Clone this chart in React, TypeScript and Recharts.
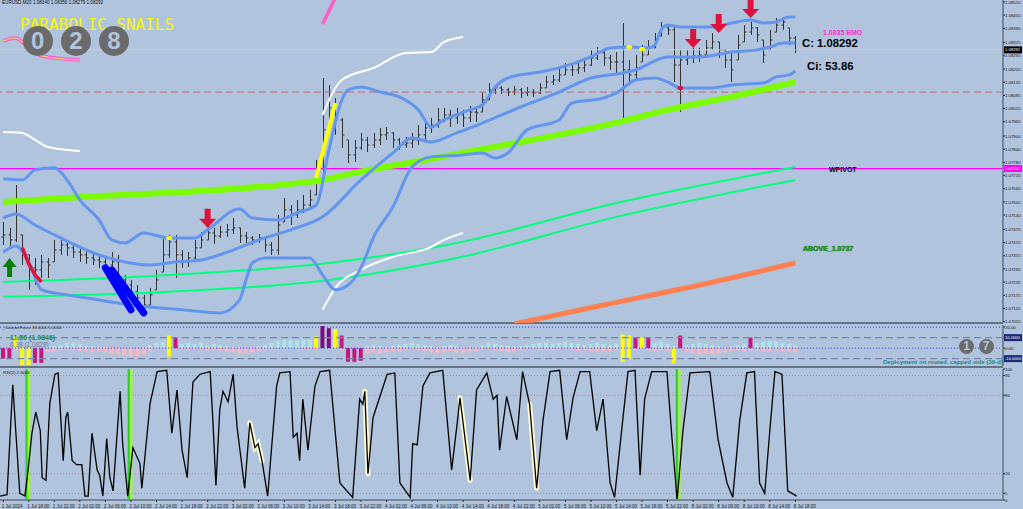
import React from "react";
import { ComposedChart, Line, Bar, XAxis, YAxis, ReferenceLine } from "recharts";

const BG = "#b0c4de";
const SLOTS = 157; // 125 bars + right shift
const SANS = "'Liberation Sans', Arial, sans-serif";

// time axis labels, one every 4 bars
const timeLabels = [
  "1 Jul 2024", "1 Jul 18:00", "1 Jul 22:00", "2 Jul 02:00", "2 Jul 06:00", "2 Jul 10:00",
  "2 Jul 14:00", "2 Jul 18:00", "2 Jul 22:00", "3 Jul 02:00", "3 Jul 06:00", "3 Jul 10:00",
  "3 Jul 14:00", "3 Jul 18:00", "3 Jul 22:00", "4 Jul 02:00", "4 Jul 06:00", "4 Jul 10:00",
  "4 Jul 14:00", "4 Jul 18:00", "4 Jul 22:00", "5 Jul 02:00", "5 Jul 06:00", "5 Jul 10:00",
  "5 Jul 14:00", "5 Jul 18:00", "5 Jul 22:00", "8 Jul 02:00", "8 Jul 06:00", "8 Jul 10:00",
  "8 Jul 14:00", "8 Jul 18:00",
];

const priceTicks = [
  1.0851, 1.0845, 1.0839, 1.08325, 1.08265, 1.08205, 1.08145, 1.08085, 1.08025, 1.07965,
  1.079, 1.0784, 1.0778, 1.0772, 1.0766, 1.076, 1.0754, 1.07475, 1.07415, 1.07355,
  1.07295, 1.07235, 1.07175, 1.07115, 1.07055,
];

// EURUSD bars
const firstOpen = 1.0744;
const barClose = [
  1.0745, 1.07427, 1.07541, 1.07381, 1.073, 1.07291, 1.07327, 1.07313, 1.07381, 1.07404,
  1.07391, 1.07372, 1.07359, 1.07345, 1.07336, 1.07327, 1.07313, 1.07327, 1.07245, 1.07222,
  1.07191, 1.07163, 1.07131, 1.07177, 1.07245, 1.07359, 1.07418, 1.07359, 1.07327, 1.07345,
  1.07391, 1.07427, 1.07459, 1.07445, 1.07463, 1.07473, 1.07482, 1.07445, 1.07436, 1.07427,
  1.07436, 1.07404, 1.07381, 1.07495, 1.07564, 1.07541, 1.07564, 1.07586, 1.07609, 1.07709,
  1.07928, 1.08028, 1.07973, 1.07905, 1.07814, 1.07846, 1.07882, 1.07859, 1.07882, 1.07905,
  1.07914, 1.07882, 1.07859, 1.07868, 1.07882, 1.07905, 1.07937, 1.0795, 1.07973, 1.07996,
  1.07982, 1.07996, 1.07982, 1.08009, 1.08005, 1.08064, 1.0811, 1.08119, 1.0811, 1.081,
  1.0811, 1.08096, 1.081, 1.08096, 1.08119, 1.08146, 1.08155, 1.08178, 1.08201, 1.08201,
  1.0821, 1.08223, 1.08255, 1.08278, 1.08255, 1.08237, 1.08237, 1.08201, 1.08178, 1.0821,
  1.08269, 1.08301, 1.08337, 1.08392, 1.08383, 1.08223, 1.08246, 1.08255, 1.08264, 1.08269,
  1.08301, 1.08328, 1.08292, 1.08246, 1.08201, 1.08314, 1.08373, 1.08392, 1.0836, 1.08269,
  1.08337, 1.08405, 1.08419, 1.08346, 1.08292,
];
const barHigh = [
  1.07509, 1.07482, 1.07677, 1.0745, 1.07359, 1.07345, 1.07359, 1.07345, 1.07427, 1.07441,
  1.07413, 1.07404, 1.07391, 1.07381, 1.07368, 1.07359, 1.07345, 1.07372, 1.07359, 1.07268,
  1.07245, 1.07222, 1.07177, 1.07209, 1.07291, 1.07441, 1.0745, 1.0745, 1.07381, 1.07372,
  1.07427, 1.07463, 1.07491, 1.07482, 1.07491, 1.075, 1.07527, 1.07482, 1.07463, 1.07445,
  1.07454, 1.07436, 1.07418, 1.07541, 1.07618, 1.07586, 1.07609, 1.07632, 1.07655, 1.07791,
  1.08164, 1.08132, 1.08073, 1.07982, 1.07882, 1.07882, 1.07914, 1.07896, 1.07914, 1.07937,
  1.07941, 1.07918, 1.07891, 1.07896, 1.07914, 1.0795, 1.07973, 1.07982, 1.08028, 1.08028,
  1.08019, 1.08028, 1.08019, 1.08037, 1.08032, 1.081, 1.08141, 1.08132, 1.08128, 1.08119,
  1.08128, 1.08119, 1.08123, 1.08114, 1.08141, 1.08173, 1.08178, 1.0821, 1.08232, 1.08228,
  1.08237, 1.08255, 1.08292, 1.08305, 1.08292, 1.08269, 1.08282, 1.08414, 1.08246, 1.08269,
  1.08314, 1.08337, 1.08369, 1.08419, 1.0841, 1.08396, 1.08292, 1.08292, 1.08301, 1.08301,
  1.08337, 1.08369, 1.08328, 1.08292, 1.08282, 1.0836, 1.08405, 1.08419, 1.08396, 1.08337,
  1.08383, 1.08437, 1.08442, 1.08392, 1.08355,
];
const barLow = [
  1.07404, 1.07391, 1.07418, 1.07313, 1.072, 1.07222, 1.07254, 1.07254, 1.07327, 1.07359,
  1.07354, 1.07345, 1.07327, 1.07318, 1.07313, 1.073, 1.07281, 1.07281, 1.072, 1.07177,
  1.07154, 1.07131, 1.07099, 1.07131, 1.072, 1.07281, 1.07345, 1.07254, 1.073, 1.07304,
  1.07336, 1.07391, 1.07427, 1.07409, 1.07436, 1.07441, 1.07454, 1.07413, 1.07413, 1.07404,
  1.07413, 1.07372, 1.07359, 1.07359, 1.07509, 1.07495, 1.07527, 1.0755, 1.07564, 1.07632,
  1.077, 1.07928, 1.07905, 1.07846, 1.07777, 1.07782, 1.07837, 1.07827, 1.07846, 1.07859,
  1.07882, 1.07846, 1.07837, 1.07846, 1.07846, 1.07859, 1.07882, 1.07914, 1.07937, 1.07964,
  1.07941, 1.07955, 1.07941, 1.07964, 1.07964, 1.08009, 1.08064, 1.08091, 1.08091, 1.08082,
  1.08087, 1.08073, 1.08082, 1.08078, 1.08091, 1.08119, 1.08132, 1.08146, 1.08178, 1.08173,
  1.08182, 1.08191, 1.08219, 1.08246, 1.08219, 1.08201, 1.08187, 1.07973, 1.08132, 1.08155,
  1.08237, 1.08269, 1.08301, 1.08355, 1.0836, 1.08146, 1.08009, 1.08223, 1.08232, 1.08237,
  1.0826, 1.08292, 1.08255, 1.0821, 1.08146, 1.08246, 1.08328, 1.0836, 1.08328, 1.08232,
  1.08292, 1.08373, 1.08383, 1.08314, 1.08278,
];

// indicator lines, [bar, price]
const bbUpper = [
  [0, 1.07705], [3, 1.077], [5, 1.07746], [8, 1.07755], [10, 1.077], [12, 1.07609], [15, 1.07518],
  [17, 1.07427], [19, 1.07413], [22, 1.07459], [26, 1.07436], [30, 1.07436], [32, 1.07473],
  [37, 1.07568], [39, 1.07527], [43, 1.07518], [46, 1.0755], [49, 1.07586], [51, 1.07837],
  [53, 1.08064], [54, 1.0811], [56, 1.08123], [59, 1.081], [62, 1.08078], [65, 1.08019],
  [67, 1.07941], [69, 1.07973], [73, 1.08019], [75, 1.08041], [77, 1.08123], [79, 1.08164],
  [84, 1.08191], [87, 1.0821], [92, 1.0826], [95, 1.08301], [98, 1.08305], [101, 1.08301],
  [102, 1.08314], [103, 1.08383], [104, 1.08405], [106, 1.08396], [111, 1.08396], [114, 1.08414],
  [117, 1.08428], [119, 1.08414], [121, 1.08419], [123, 1.08442], [124, 1.08442],
];
const bbMiddle = [
  [0, 1.07527], [2, 1.07545], [5, 1.07495], [9, 1.07436], [15, 1.07359], [19, 1.07327],
  [23, 1.07313], [27, 1.07327], [31, 1.07336], [36, 1.07381], [40, 1.07427], [45, 1.07473],
  [50, 1.07532], [56, 1.077], [61, 1.07823], [64, 1.07891], [67, 1.07873], [71, 1.07914],
  [75, 1.07959], [81, 1.08032], [87, 1.081], [92, 1.08164], [97, 1.08187], [99, 1.08201],
  [104, 1.0826], [109, 1.0826], [114, 1.08282], [118, 1.08292], [120, 1.08305], [122, 1.08323],
  [124, 1.08323],
];
const bbLower = [
  [0, 1.07372], [2, 1.074], [4, 1.07327], [6, 1.072], [10, 1.07177], [15, 1.07154], [20, 1.07131],
  [28, 1.07109], [34, 1.07095], [37, 1.07154], [38, 1.07245], [39, 1.07322], [41, 1.07345],
  [48, 1.07345], [50, 1.07268], [52, 1.072], [54, 1.07222], [56, 1.073], [58, 1.07441],
  [61, 1.07577], [64, 1.07759], [67, 1.07805], [72, 1.07814], [75, 1.07823], [77, 1.078],
  [79, 1.07823], [82, 1.07928], [87, 1.07973], [89, 1.0805], [94, 1.08073], [96, 1.08096],
  [99, 1.08155], [102, 1.08164], [104, 1.08146], [106, 1.08119], [111, 1.08119], [114, 1.08132],
  [119, 1.08141], [121, 1.08169], [123, 1.08178], [124, 1.08196],
];
const maSlow = [
  [0, 1.076], [15, 1.07627], [31, 1.0765], [45, 1.07682], [50, 1.077], [55, 1.07732],
  [66, 1.07791], [76, 1.07846], [87, 1.07905], [97, 1.07968], [104, 1.08019], [114, 1.08078],
  [124, 1.08146],
];
const maFast1 = [[0, 1.07236], [26, 1.07268], [51, 1.07322], [71, 1.07413], [96, 1.07595], [124, 1.07759]];
const maFast2 = [[0, 1.07168], [26, 1.07191], [51, 1.07245], [71, 1.07345], [96, 1.07532], [124, 1.077]];
const maLong = [[80, 1.07045], [94, 1.07131], [109, 1.07222], [124, 1.07322]];
const envTopLeft = [[0, 1.07918], [3, 1.07914], [5, 1.07882], [7, 1.0785], [12, 1.07832]];
const envUpper = [[50, 1.07996], [53, 1.08155], [58, 1.0821], [63, 1.08278], [67, 1.08282], [69, 1.08328], [72, 1.08351]];
const envLower = [[50, 1.07109], [52, 1.07209], [56, 1.07291], [61, 1.0735], [67, 1.07395], [69, 1.07427], [72, 1.07459]];
const trendUp = [[49, 1.07709], [52, 1.0805]];
const trendDown = [[3, 1.07391], [4, 1.07318], [5, 1.07268], [6, 1.07236]];
const blueLeg1 = [[16, 1.073], [20, 1.07109]];
const blueLeg2 = [[17, 1.07291], [22, 1.07095]];
const pinkTrail = [[0, 1.08332], [2, 1.08346], [3, 1.08328], [6, 1.08264], [12, 1.08246]];
const pinkTrail2 = [[50, 1.0841], [52, 1.0853]];
const sellArrows = [[32, 1.07482], [108, 1.08301], [112, 1.08369], [117, 1.08437]];
const buyArrows = [[1, 1.07345]];
const touchUp = [[26, 1.07436], [98, 1.08305], [100, 1.08296]];
const touchDn = [[106, 1.08119]];

const lastClose = 1.08292;
const weeklyPivot = 1.07752;
const dailyLevel = 1.081;

// CounterForce histogram
const cfUp = [
  0, 0, 1, 0, 0, 0, 0, 2, 2, 3, 5, 5, 4, 2, 2, 1, 1, 0, 0, 0,
  0, 0, 1, 3, 5, 6, 0, 0, 4, 5, 4, 5, 3, 4, 3, 2, 1, 1, 0, 1,
  2, 3, 5, 7, 8, 8, 7, 8, 8, 0, 0, 0, 0, 0, 0, 0, 0, 2, 3, 2,
  1, 2, 3, 4, 5, 4, 3, 2, 1, 2, 3, 2, 1, 0, 1, 3, 5, 4, 3, 2,
  1, 2, 3, 4, 5, 5, 4, 5, 6, 5, 4, 3, 4, 5, 4, 3, 4, 0, 0, 0,
  0, 0, 5, 6, 4, 2, 0, 3, 4, 5, 4, 3, 2, 1, 2, 3, 4, 0, 5, 6,
  7, 6, 5, 4, 3,
];
const cfDn = [
  0, 0, -2, 0, 0, 0, 0, -4, -3, -2, -1, -2, -3, -3, -4, -3, -4, -5, -6, -7,
  -8, -8, -6, -3, -1, -1, 0, -1, -1, -2, -1, -1, -2, -2, -3, -3, -4, -5, -5, -4,
  -3, -2, -1, 0, 0, 0, 0, -1, -1, -1, 0, 0, 0, -2, 0, 0, 0, -5, -4, -5,
  -4, -3, -3, -2, -1, -2, -3, -4, -5, -4, -3, -4, -5, -4, -3, -2, -1, -2, -3, -4,
  -3, -2, -1, -1, -2, -1, -2, -1, -1, -2, -3, -2, -3, -3, -4, -3, -2, 0, 0, -2,
  -1, -2, -3, -2, -3, 0, -1, -4, -5, -6, -5, -6, -5, -4, -3, -2, -3, -2, -2, -3,
  -3, -2, -3, -3, -4,
];
const cfYellowUp = [[2, 10], [26, 12], [49, 11], [52, 18], [97, 13], [98, 12], [100, 10]];
const cfYellowDn = [[3, -16], [4, -16], [26, -8], [97, -13], [98, -10], [105, -14]];
const cfMagentaUp = [[27, 10], [53, 12], [99, 10], [101, 10], [106, 12], [117, 10]];
const cfMagentaDn = [[0, -10], [1, -10], [5, -14], [6, -14], [54, -13], [55, -13], [56, -12]];
const cfPurpleUp = [[50, 21], [51, 19]];

// RSI(2), [bar, value]
const rsiLine = [
  [-0.5, 3], [0.6, 4], [1.5, 88], [2.6, 5], [3.4, 3], [3.9, 23], [4.5, 51], [5.1, 67], [5.8, 53],
  [6.1, 17], [6.7, 15], [7.3, 74], [8.1, 96], [8.6, 97], [9.4, 30], [9.8, 63], [10.1, 67],
  [10.8, 30], [11.5, 27], [12.3, 27], [12.8, 3], [13.3, 3], [13.9, 51], [14.7, 23], [15.1, 19],
  [15.6, 3], [16.2, 47], [16.7, 17], [17.2, 7], [18.3, 83], [18.7, 43], [19.5, 3], [20.3, 40],
  [21.4, 28], [21.7, 9], [23, 74], [24.1, 98], [25.6, 99], [26.4, 51], [27.2, 84], [28, 38],
  [28.8, 17], [29.7, 90], [30.8, 96], [32.4, 98], [32.8, 63], [33.3, 11], [33.9, 69], [34.4, 83],
  [35.2, 75], [36, 96], [36.6, 56], [37.8, 9], [38.6, 59], [39.4, 40], [39.9, 43], [40.5, 30],
  [41.4, 3], [42.8, 87], [43.3, 97], [44.9, 98], [45.4, 48], [46, 51], [46.4, 30], [46.9, 77],
  [47.7, 38], [48.8, 87], [49.6, 98], [51.1, 99], [52.7, 13], [54.7, 2], [55.8, 77], [56.3, 73],
  [56.6, 83], [57.1, 20], [57.9, 63], [60.1, 96], [61.3, 97], [62.1, 13], [63.7, 2], [64.1, 43],
  [64.8, 42], [65.7, 87], [66.8, 97], [68.8, 99], [70.2, 23], [71, 56], [71.5, 78], [73.1, 15],
  [74.1, 84], [75.7, 97], [76.7, 77], [77.3, 80], [77.7, 38], [78.8, 79], [80.4, 46], [81.3, 98],
  [82.4, 73], [83.5, 9], [84.5, 61], [85.6, 98], [87.1, 99], [88.2, 46], [89.2, 78], [90.3, 98],
  [91.8, 98], [92.9, 53], [93.9, 77], [95, 13], [95.7, 2], [96.8, 53], [97.8, 98], [98.9, 99],
  [99.7, 19], [100.4, 77], [101.5, 98], [103.9, 98], [104.7, 46], [105.5, 0], [106.4, 53],
  [107.5, 97], [110.6, 98], [111.9, 46], [113.3, 13], [114.2, 2], [115.3, 61], [116.4, 97],
  [117.6, 98], [118.4, 13], [119.2, 5], [120, 53], [120.8, 98], [121.9, 96], [122.8, 7], [124.2, 3],
];
const rsiHighlights = [
  [[38.6, 59], [39.4, 40], [39.9, 43], [40.5, 30]],
  [[56.6, 83], [57.1, 20]],
  [[71.5, 78], [73.1, 15]],
  [[82.4, 73], [83.5, 9]],
];
const rsiSignals = [4, 20, 105.8];
const rsiLevels = [95, 80, 20, 5];

// ---- build tables ----
const mainRows: any[] = Array.from({ length: SLOTS }, (_, i) => ({ i }));
barClose.forEach((c, i) => {
  const prev = i === 0 ? firstOpen : barClose[i - 1];
  const open = Math.min(barHigh[i], Math.max(barLow[i], prev));
  Object.assign(mainRows[i], { hl: [barLow[i], barHigh[i]], open, close: c, high: barHigh[i], low: barLow[i] });
});
const put = (rows: any[], key: string, pts: number[][]) => pts.forEach(([s, v]) => { rows[s][key] = v; });
put(mainRows, "bbU", bbUpper);
put(mainRows, "bbM", bbMiddle);
put(mainRows, "bbL", bbLower);
put(mainRows, "maSlow", maSlow);
put(mainRows, "maF1", maFast1);
put(mainRows, "maF2", maFast2);
put(mainRows, "maLong", maLong);
put(mainRows, "envTL", envTopLeft);
put(mainRows, "envU", envUpper);
put(mainRows, "envL", envLower);
put(mainRows, "trUp", trendUp);
put(mainRows, "trDn", trendDown);
put(mainRows, "leg1", blueLeg1);
put(mainRows, "leg2", blueLeg2);
put(mainRows, "pink1", pinkTrail);
put(mainRows, "pink2", pinkTrail2);
put(mainRows, "sell", sellArrows);
put(mainRows, "buy", buyArrows);
put(mainRows, "tUp", touchUp);
put(mainRows, "tDn", touchDn);

const cfRows: any[] = Array.from({ length: SLOTS }, (_, i) => ({ i }));
cfUp.forEach((v, i) => { cfRows[i].up = v; cfRows[i].dn = cfDn[i]; });
put(cfRows, "yUp", cfYellowUp);
put(cfRows, "yDn", cfYellowDn);
put(cfRows, "mUp", cfMagentaUp);
put(cfRows, "mDn", cfMagentaDn);
put(cfRows, "pUp", cfPurpleUp);

const rsiData = rsiLine.map(([t, v]) => ({ t, v }));
const timeTicks = timeLabels.map((_, k) => k * 4);

// ---- shapes ----
const OhlcShape = (props: any) => {
  const { x, y, width, height, payload } = props;
  if (!payload || payload.high == null) return <g />;
  const top = Math.min(y, y + height);
  const h = Math.abs(height);
  const span = payload.high - payload.low;
  const k = span > 0 ? h / span : 0;
  const cx = Math.round(x + width / 2) + 0.5;
  const yo = top + (payload.high - payload.open) * k;
  const yc = top + (payload.high - payload.close) * k;
  return (
    <g stroke="#333" strokeWidth={1}>
      <line x1={cx} x2={cx} y1={top} y2={top + h} />
      <line x1={cx - 2} x2={cx} y1={yo} y2={yo} />
      <line x1={cx} x2={cx + 2} y1={yc} y2={yc} />
    </g>
  );
};

const sellDot = (p: any) => {
  if (p.value == null || p.cy == null) return <g key={`s${p.index}`} />;
  const { cx, cy } = p;
  const pts = [[0, 0], [-8.5, -9], [-3, -9], [-3, -19], [3, -19], [3, -9], [8.5, -9]]
    .map(([dx, dy]) => `${cx + dx},${cy + dy}`).join(" ");
  return <polygon key={`s${p.index}`} points={pts} fill="#dc143c" />;
};
const buyDot = (p: any) => {
  if (p.value == null || p.cy == null) return <g key={`b${p.index}`} />;
  const { cx, cy } = p;
  const pts = [[0, 0], [-7, 9], [-2.5, 9], [-2.5, 19], [2.5, 19], [2.5, 9], [7, 9]]
    .map(([dx, dy]) => `${cx + dx},${cy + dy}`).join(" ");
  return <polygon key={`b${p.index}`} points={pts} fill="#0a7d0a" />;
};
const blobDot = (color: string) => (p: any) => {
  if (p.value == null || p.cy == null) return <g key={`o${p.index}`} />;
  return <ellipse key={`o${p.index}`} cx={p.cx} cy={p.cy} rx={3} ry={2} fill={color} />;
};

// tiny scale labels
const tinyText = (x: number, y: number, s: string, fill = "#111", size = 4.3) => (
  <text x={x} y={y} fontSize={size} fill={fill} fontFamily={SANS}>
    {s}
  </text>
);
const PriceTick = ({ x, y, payload }: any) => tinyText(x, y + 1.6, Number(payload.value).toFixed(5));
const PlainTick = (digits: number) => ({ x, y, payload }: any) => tinyText(x, y + 1.6, Number(payload.value).toFixed(digits));
const TimeTick = ({ x, y, payload }: any) => tinyText(x - 1.5, y + 4, timeLabels[Math.round(payload.value / 4)] || "", "#111", 4.5);
const boxLabel = (bg: string, fg: string, text: string, w = 18) => (props: any) => {
  const vb = props.viewBox || {};
  const x = (vb.x || 0) + (vb.width || 0);
  const y = vb.y || 0;
  return (
    <g>
      <rect x={x + 1} y={y - 3.5} width={w} height={7} fill={bg} />
      {tinyText(x + 2, y + 1.6, text, fg, 4.1)}
    </g>
  );
};

const axisLine = { stroke: "#75869a", strokeWidth: 2 };
const M = { top: 0, right: 0, bottom: 0, left: 0 };

const sparse = (key: string, stroke: string, width: number, extra: any = {}) => (
  <Line
    key={key + stroke}
    dataKey={key}
    type="monotone"
    stroke={stroke}
    strokeWidth={width}
    dot={false}
    activeDot={false}
    connectNulls
    isAnimationActive={false}
    {...extra}
  />
);

const abs = (left: number, top: number, style: any, content: any) => (
  <div style={{ position: "absolute", left, top, lineHeight: 1, whiteSpace: "nowrap", ...style }}>{content}</div>
);
const circle = (cx: number, cy: number, r: number, digit: string, size: number) => (
  <div
    style={{
      position: "absolute", left: cx - r, top: cy - r, width: r * 2, height: r * 2, borderRadius: "50%",
      background: "#6b6b6b", color: BG, fontFamily: SANS, fontWeight: 700, fontSize: size,
      display: "flex", alignItems: "center", justifyContent: "center",
    }}
  >
    {digit}
  </div>
);

export default function App() {
  return (
    <div style={{ position: "fixed", left: 0, top: 0, width: 1023, height: 509, background: BG, overflow: "hidden" }}>
      {/* window borders */}
      <div style={{ position: "absolute", left: 0, top: 322, width: 1003, height: 2, background: "#667488" }} />
      <div style={{ position: "absolute", left: 0, top: 366, width: 1003, height: 2, background: "#667488" }} />

      {/* main price window */}
      <div style={{ position: "absolute", left: 0, top: 0 }}>
        <ComposedChart width={1023} height={323} data={mainRows} margin={M}>
          <XAxis dataKey="i" hide />
          <YAxis
            orientation="right"
            width={20}
            domain={[1.07049, 1.08519]}
            allowDataOverflow
            ticks={priceTicks}
            interval={0}
            tick={<PriceTick />}
            tickSize={2}
            tickMargin={0}
            tickLine={{ stroke: "#333" }}
            axisLine={axisLine}
          />
          <ReferenceLine y={lastClose} stroke="#c9cfd8" strokeWidth={1} label={boxLabel("#000", "#fff", "1.08292")} />
          <ReferenceLine y={dailyLevel} stroke="#c46a6a" strokeDasharray="7 4" strokeWidth={1} />
          <ReferenceLine y={weeklyPivot} stroke="#ff00ff" strokeWidth={1.2} label={boxLabel("#ff00ff", "#fff", "1.07752")} />
          {sparse("maLong", "#ff7f50", 5)}
          {sparse("maF2", "#00ff7f", 2)}
          {sparse("maF1", "#00ff7f", 2)}
          {sparse("maSlow", "#7cfc00", 6)}
          {sparse("envTL", "#ffffff", 2)}
          {sparse("envU", "#ffffff", 2)}
          {sparse("envL", "#ffffff", 2)}
          {sparse("bbU", "#6495ed", 3)}
          {sparse("bbM", "#6495ed", 3)}
          {sparse("bbL", "#6495ed", 3)}
          <Bar dataKey="hl" shape={<OhlcShape />} isAnimationActive={false} />
          {sparse("trDn", "#dc143c", 3.5, { type: "linear" })}
          {sparse("trUp", "#ffff00", 4, { type: "linear" })}
          {sparse("leg1", "#0000ff", 7, { type: "linear", strokeLinecap: "round" })}
          {sparse("leg2", "#0000ff", 7, { type: "linear", strokeLinecap: "round" })}
          {sparse("pink1", "#ff5cc8", 3.5)}
          {sparse("pink1", "#ffff66", 0.8)}
          {sparse("pink2", "#ff5cc8", 3.5, { type: "linear" })}
          <Line dataKey="tUp" stroke="none" dot={blobDot("#ffff00")} activeDot={false} isAnimationActive={false} />
          <Line dataKey="tDn" stroke="none" dot={blobDot("#dc143c")} activeDot={false} isAnimationActive={false} />
          <Line dataKey="sell" stroke="none" dot={sellDot} activeDot={false} isAnimationActive={false} />
          <Line dataKey="buy" stroke="none" dot={buyDot} activeDot={false} isAnimationActive={false} />
        </ComposedChart>
      </div>

      {/* CounterForce window */}
      <div style={{ position: "absolute", left: 0, top: 325 }}>
        <ComposedChart width={1023} height={41} data={cfRows} margin={M} stackOffset="sign" barCategoryGap={1}>
          <XAxis dataKey="i" hide />
          <YAxis
            orientation="right"
            width={20}
            domain={[-17, 22]}
            allowDataOverflow
            ticks={[20, 0]}
            interval={0}
            tick={PlainTick(2)}
            tickSize={2}
            tickMargin={0}
            tickLine={{ stroke: "#333" }}
            axisLine={axisLine}
          />
          <ReferenceLine y={20} stroke="#3b3bf5" strokeDasharray="1 2" />
          <ReferenceLine y={10} stroke="#7886a8" strokeDasharray="7 4" strokeWidth={1.2} label={boxLabel("#1c2a78", "#fff", "10.0000")} />
          <ReferenceLine y={-10} stroke="#7886a8" strokeDasharray="7 4" strokeWidth={1.2} label={boxLabel("#1c2a78", "#fff", "-10.0000")} />
          <Bar dataKey="up" stackId="cf" fill="#aee3e8" isAnimationActive={false} />
          <Bar dataKey="dn" stackId="cf" fill="#ffb6c1" isAnimationActive={false} />
          <Bar dataKey="yUp" stackId="cf" fill="#ffff00" isAnimationActive={false} />
          <Bar dataKey="yDn" stackId="cf" fill="#ffff00" isAnimationActive={false} />
          <Bar dataKey="mUp" stackId="cf" fill="#c8157f" isAnimationActive={false} />
          <Bar dataKey="mDn" stackId="cf" fill="#c8157f" isAnimationActive={false} />
          <Bar dataKey="pUp" stackId="cf" fill="#7d0a7d" isAnimationActive={false} />
          <ReferenceLine y={0} stroke="#3b3bf5" strokeDasharray="1 2" />
        </ComposedChart>
      </div>

      {/* RSI window */}
      <div style={{ position: "absolute", left: 0, top: 366 }}>
        <ComposedChart width={1023} height={143} margin={{ top: 3, right: 0, bottom: 0, left: 0 }}>
          <XAxis
            type="number"
            dataKey="t"
            domain={[-0.5, SLOTS - 0.5]}
            allowDataOverflow
            ticks={timeTicks}
            interval={0}
            height={9}
            tick={<TimeTick />}
            tickSize={2}
            tickLine={{ stroke: "#333" }}
            axisLine={axisLine}
          />
          <YAxis
            orientation="right"
            width={20}
            domain={[0, 100]}
            ticks={[100, 95, 80, 20, 5, 0]}
            interval={0}
            tick={PlainTick(0)}
            tickSize={2}
            tickMargin={0}
            tickLine={{ stroke: "#333" }}
            axisLine={axisLine}
          />
          {rsiLevels.map((lv) => (
            <ReferenceLine key={`lv${lv}`} y={lv} stroke="#d9708f" strokeDasharray="1 2" />
          ))}
          {rsiSignals.map((t) => (
            <ReferenceLine key={`g${t}`} x={t - 0.35} stroke="#32cd32" strokeWidth={2.2} />
          ))}
          {rsiSignals.map((t) => (
            <ReferenceLine key={`l${t}`} x={t + 0.05} stroke="#9aff1a" strokeWidth={2.2} />
          ))}
          {rsiHighlights.map((seg, k) => (
            <Line
              key={`h${k}`}
              data={seg.map(([t, v]) => ({ t, v }))}
              dataKey="v"
              type="linear"
              stroke="#fffad0"
              strokeWidth={5}
              strokeLinecap="round"
              dot={false}
              activeDot={false}
              isAnimationActive={false}
            />
          ))}
          <Line data={rsiData} dataKey="v" type="linear" stroke="#000" strokeWidth={1.3} dot={false} activeDot={false} isAnimationActive={false} />
        </ComposedChart>
      </div>

      {/* texts */}
      {abs(2, 0.5, { fontSize: 4.6, fontFamily: SANS, color: "#111" }, "EURUSD,M20  1.08340 1.08356 1.08279 1.08292")}
      {abs(20, 16.5, { fontSize: 16, fontFamily: "'DejaVu Sans Mono', monospace", color: "#f7f700" }, "PARABOLIC SNAILS")}
      {circle(37.7, 40.7, 15, "0", 24)}
      {circle(76, 40.7, 15, "2", 24)}
      {circle(114, 40.7, 15, "8", 24)}
      {abs(823, 29, { fontSize: 7, fontFamily: SANS, fontWeight: 700, color: "#ff2ad4" }, "1.0835 EMO")}
      {abs(802, 37.5, { fontSize: 11.3, fontFamily: SANS, fontWeight: 700, color: "#000" }, "C: 1.08292")}
      {abs(807, 60.6, { fontSize: 11.3, fontFamily: SANS, fontWeight: 700, color: "#000" }, "Ci: 53.86")}
      {abs(829, 166, { fontSize: 7, fontFamily: SANS, fontWeight: 700, color: "#000" }, "WPIVOT")}
      {abs(803, 245, { fontSize: 7, fontFamily: SANS, fontWeight: 700, color: "#1f9a1f", textShadow: "0 0 1px #0b3d0b" }, "ABOVE_1.0737")}
      {abs(2, 325.5, { fontSize: 4.3, fontFamily: SANS, color: "#222" }, "_CounterForce 16.0000 5.0000")}
      {abs(10, 334, { fontSize: 7, fontFamily: SANS, fontWeight: 700, color: "#2e8b2e" }, "11.56 (1.0846)")}
      {abs(10, 342, { fontSize: 6.5, fontFamily: SANS, color: "#6f7f8f" }, "6.38 (1.0828)")}
      {circle(966.7, 346, 7.5, "1", 12)}
      {circle(986, 346, 7.5, "7", 12)}
      {abs(883, 359, { fontSize: 6, fontFamily: SANS, fontWeight: 700, color: "#0f8a8a" }, "Deployment on routed, capped side (30-d)")}
      {abs(3, 371, { fontSize: 4.3, fontFamily: SANS, color: "#222" }, "RSI(2) 2.6684")}
    </div>
  );
}
